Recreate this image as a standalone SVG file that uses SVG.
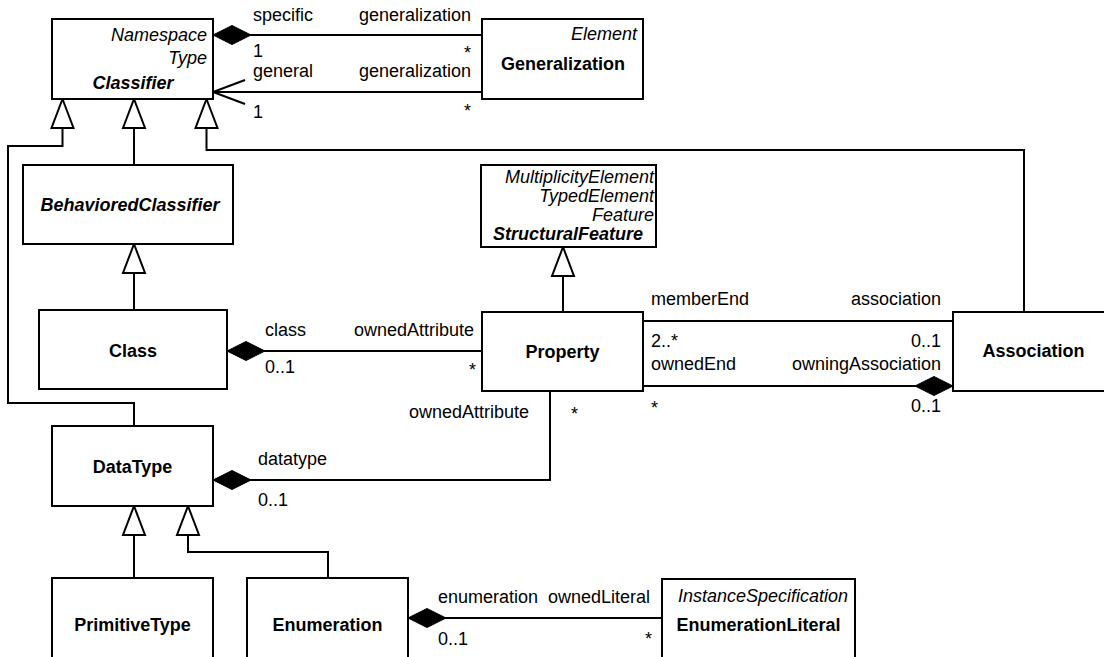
<svg xmlns="http://www.w3.org/2000/svg" width="1104" height="657" viewBox="0 0 1104 657">
<style>
  .box { fill: #ffffff; stroke: #000000; stroke-width: 2; }
  .conn { fill: none; stroke: #000000; stroke-width: 2; }
  text { font-family: "Liberation Sans", Arial, sans-serif; font-size: 18px; fill: #000000; }
  .name { font-weight: bold; text-anchor: middle; }
  .abs { font-weight: bold; font-style: italic; text-anchor: middle; }
  .sup { font-style: italic; text-anchor: end; }
  .end { text-anchor: end; }
</style>
<defs>
  <marker id="diamond" markerUnits="userSpaceOnUse" markerWidth="40" markerHeight="22" viewBox="0 0 40 22" refX="1" refY="11" orient="auto" overflow="visible">
    <path d="M1,11 L20,1.5 L39,11 L20,20.5 Z" fill="#000" stroke="#000" stroke-width="1"/>
  </marker>
  <marker id="tri" markerUnits="userSpaceOnUse" markerWidth="32" markerHeight="26" viewBox="0 0 32 26" refX="1" refY="12" orient="auto" overflow="visible">
    <path d="M1,12 L30,1 L30,23 Z" fill="#fff" stroke="#000" stroke-width="2" stroke-linejoin="miter"/>
  </marker>
  <marker id="open" markerUnits="userSpaceOnUse" markerWidth="36" markerHeight="26" viewBox="0 0 36 26" refX="1" refY="12" orient="auto" overflow="visible">
    <path d="M33,0 L1,12 L33,24" fill="none" stroke="#000" stroke-width="2"/>
  </marker>
</defs>

<g id="connectors">
  <path class="conn" d="M213,35 H482" marker-start="url(#diamond)"/>
  <path class="conn" d="M213,92 H482" marker-start="url(#open)"/>
  <path class="conn" d="M62.5,99 V146 H8 V403 H134 V426" marker-start="url(#tri)"/>
  <path class="conn" d="M134,99 V165" marker-start="url(#tri)"/>
  <path class="conn" d="M206.5,99 V150 H1024 V312" marker-start="url(#tri)"/>
  <path class="conn" d="M134,244 V310" marker-start="url(#tri)"/>
  <path class="conn" d="M563,247 V312" marker-start="url(#tri)"/>
  <path class="conn" d="M227,351 H482" marker-start="url(#diamond)"/>
  <path class="conn" d="M643,321 H953"/>
  <path class="conn" d="M953,386 H643" marker-start="url(#diamond)"/>
  <path class="conn" d="M213,480 H550 V391" marker-start="url(#diamond)"/>
  <path class="conn" d="M134,506 V578" marker-start="url(#tri)"/>
  <path class="conn" d="M188,506 V552 H328 V578" marker-start="url(#tri)"/>
  <path class="conn" d="M408,618 H662" marker-start="url(#diamond)"/>

  <text x="253" y="21">specific</text>
  <text class="end" x="471" y="21">generalization</text>
  <text x="253" y="57">1</text>
  <text class="end" x="471" y="59">*</text>
  <text x="253" y="77">general</text>
  <text class="end" x="471" y="77">generalization</text>
  <text x="253" y="118">1</text>
  <text class="end" x="471" y="117">*</text>

  <text x="265" y="336">class</text>
  <text class="end" x="474" y="336">ownedAttribute</text>
  <text x="265" y="373">0..1</text>
  <text class="end" x="476" y="376">*</text>

  <text x="651" y="305">memberEnd</text>
  <text class="end" x="941" y="305">association</text>
  <text x="651" y="347">2..*</text>
  <text class="end" x="941" y="347">0..1</text>
  <text x="651" y="370">ownedEnd</text>
  <text class="end" x="941" y="370">owningAssociation</text>
  <text x="651" y="414">*</text>
  <text class="end" x="941" y="412">0..1</text>

  <text x="258" y="465">datatype</text>
  <text x="258" y="506">0..1</text>
  <text class="end" x="529" y="418">ownedAttribute</text>
  <text x="571" y="420">*</text>

  <text x="438" y="603">enumeration</text>
  <text class="end" x="650" y="603">ownedLiteral</text>
  <text x="438" y="645">0..1</text>
  <text class="end" x="652" y="645">*</text>
</g>

<g id="Classifier">
  <rect class="box" x="52" y="19" width="161" height="80"/>
  <text class="sup" x="207" y="41">Namespace</text>
  <text class="sup" x="207" y="64">Type</text>
  <text class="abs" x="133" y="89">Classifier</text>
</g>
<g id="Generalization">
  <rect class="box" x="482" y="19" width="161" height="80"/>
  <text class="sup" x="637" y="40">Element</text>
  <text class="name" x="563" y="70">Generalization</text>
</g>
<g id="BehavioredClassifier">
  <rect class="box" x="23" y="165" width="210" height="79"/>
  <text class="abs" x="130" y="211">BehavioredClassifier</text>
</g>
<g id="StructuralFeature">
  <rect class="box" x="481" y="165" width="175" height="82"/>
  <text class="sup" x="654" y="183">MultiplicityElement</text>
  <text class="sup" x="654" y="202">TypedElement</text>
  <text class="sup" x="654" y="221">Feature</text>
  <text class="abs" x="568" y="240">StructuralFeature</text>
</g>
<g id="Class">
  <rect class="box" x="39" y="310" width="188" height="79"/>
  <text class="name" x="133" y="357">Class</text>
</g>
<g id="Property">
  <rect class="box" x="482" y="312" width="161" height="79"/>
  <text class="name" x="562.5" y="358">Property</text>
</g>
<g id="Association">
  <rect class="box" x="953" y="312" width="161" height="79"/>
  <text class="name" x="1033.5" y="357">Association</text>
</g>
<g id="DataType">
  <rect class="box" x="52" y="426" width="161" height="80"/>
  <text class="name" x="132.5" y="473">DataType</text>
</g>
<g id="PrimitiveType">
  <rect class="box" x="52" y="578" width="161" height="100"/>
  <text class="name" x="132.5" y="631">PrimitiveType</text>
</g>
<g id="Enumeration">
  <rect class="box" x="247" y="578" width="161" height="100"/>
  <text class="name" x="327.5" y="631">Enumeration</text>
</g>
<g id="EnumerationLiteral">
  <rect class="box" x="662" y="579" width="193" height="100"/>
  <text class="sup" x="848" y="602">InstanceSpecification</text>
  <text class="name" x="758.5" y="631">EnumerationLiteral</text>
</g>
</svg>
